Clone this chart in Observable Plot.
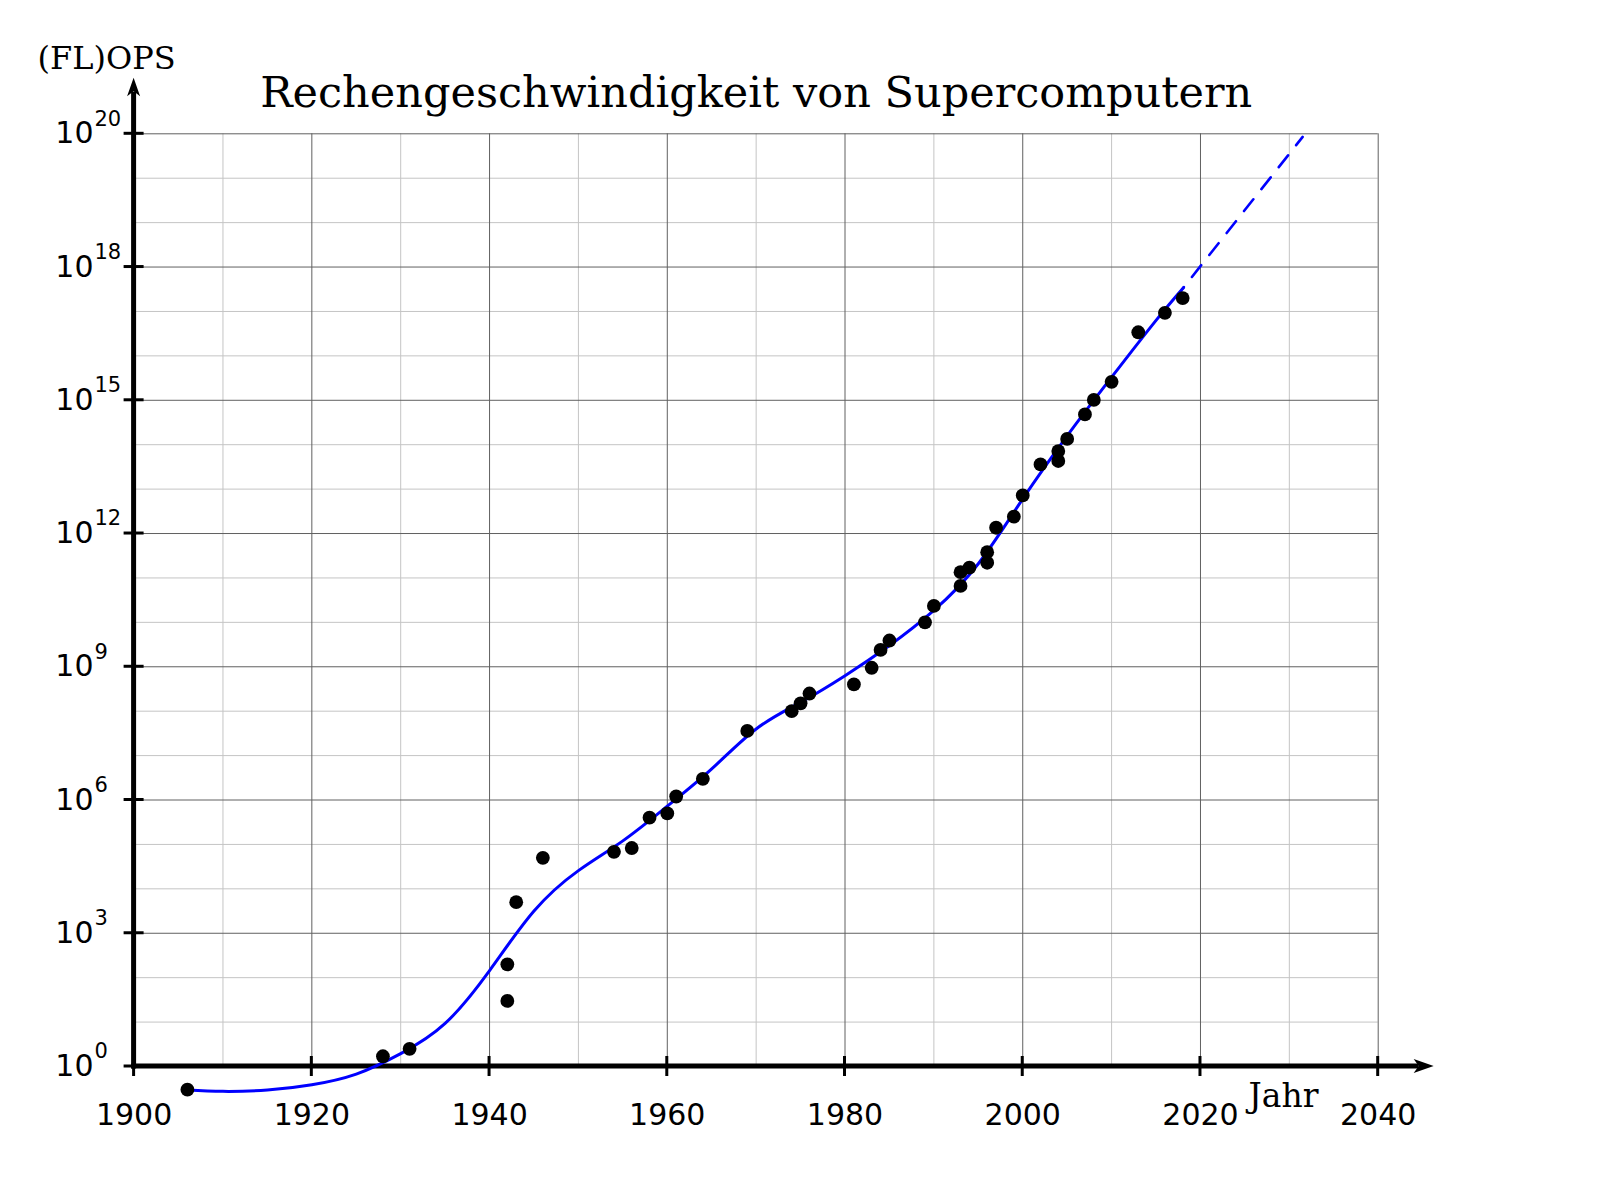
<!DOCTYPE html>
<html>
<head>
<meta charset="utf-8">
<script src="https://cdn.jsdelivr.net/npm/d3@7"></script>
<script src="https://cdn.jsdelivr.net/npm/@observablehq/plot@0.6"></script>
<style>
  html, body { margin: 0; padding: 0; background: #fff; overflow: hidden; }
</style>
</head>
<body>
<div id="chart"></div>
<script>
// ---------- data ----------
const pointYears = [1906, 1928, 1931, 1942, 1942, 1943, 1946, 1954, 1956, 1958, 1960, 1961, 1964, 1969,
  1974, 1975, 1976, 1981, 1983, 1984, 1985, 1989, 1990, 1993, 1993, 1994, 1996, 1996, 1997, 1999,
  2000, 2002, 2004, 2004, 2005, 2007, 2008, 2010, 2013, 2016, 2018];
const pointOps = [0.3, 1.7, 2.5, 30, 200, 5e3, 5e4, 6.8e4, 8.3e4, 4e5, 5e5, 1.2e6, 3e6, 3.6e7,
  1e8, 1.5e8, 2.5e8, 4e8, 9.5e8, 2.4e9, 3.9e9, 1e10, 2.35e10, 6.6e10, 1.35e11, 1.7e11, 2.2e11, 3.8e11, 1.35e12, 2.4e12,
  7.2e12, 3.6e13, 4.3e13, 7.2e13, 1.35e14, 4.8e14, 1.02e15, 2.6e15, 3.4e16, 9.3e16, 2e17];

// smooth trend curve (log10 of operations per second), read every 5 years
const trendYears = [1906, 1910, 1915, 1920, 1925, 1930, 1935, 1940, 1945, 1950, 1955, 1960, 1965,
  1970, 1975, 1980, 1985, 1990, 1995, 2000, 2005, 2010, 2015, 2018.06];
const trendLog10 = [-0.53, -0.56, -0.53, -0.41, -0.17, 0.29, 0.97, 2.16, 3.5, 4.41, 5.08, 5.86, 6.7,
  7.6, 8.2, 8.8, 9.48, 10.27, 11.32, 12.78, 14.2, 15.52, 16.8, 17.53];

// dashed extrapolation
const forecastYears = [2018.06, 2031.5];
const forecastLog10 = [17.53, 20.93];

// axis ticks and labels
const xTickYears = [1900, 1920, 1940, 1960, 1980, 2000, 2020, 2040];
const yTickExponents = [0, 3, 6, 9, 12, 15, 18, 21];
const yTickLabels = ["0", "3", "6", "9", "12", "15", "18", "20"];
const gridYears = [1910, 1920, 1930, 1940, 1950, 1960, 1970, 1980, 1990, 2000, 2010, 2020, 2030, 2040];
const gridExponents = [1, 2, 3, 4, 5, 6, 7, 8, 9, 10, 11, 12, 13, 14, 15, 16, 17, 18, 19, 20, 21];

const titleText = "Rechengeschwindigkeit von Supercomputern";
const yAxisLabel = "(FL)OPS";
const xAxisLabel = "Jahr";

// ---------- layout ----------
const axisXEndYear = 2046.3;     // x-axis arrow tip (data units)
const axisYEndExp = 22.25;       // y-axis arrow tip (log10 units)
const serif = "DejaVu Serif";
const sans = "DejaVu Sans";
const blue = "#0000ff";

const points = pointYears.map((year, i) => ({year, ops: pointOps[i]}));
const trend = trendYears.map((year, i) => ({year, ops: 10 ** trendLog10[i]}));
const forecast = forecastYears.map((year, i) => ({year, ops: 10 ** forecastLog10[i]}));

const isMajorYear = (t) => t % 20 === 0;
const isMajorExp = (e) => e % 3 === 0;

function axesMark(index, scales) {
  const {x, y} = scales;
  const g = d3.create("svg:g");
  const x0 = x(1900), y0 = y(1);
  const xEnd = x(axisXEndYear), yEnd = y(10 ** axisYEndExp);
  g.append("path").attr("d", `M${x0 - 2.5},${y0}H${xEnd - 15}`)
    .attr("stroke", "#000").attr("stroke-width", 5).attr("fill", "none");
  g.append("path").attr("d", `M${x0},${y0 + 2.5}V${yEnd + 14}`)
    .attr("stroke", "#000").attr("stroke-width", 5).attr("fill", "none");
  for (const t of xTickYears) {
    g.append("path").attr("d", `M${x(t)},${y0 - 10}V${y0 + 10}`)
      .attr("stroke", "#000").attr("stroke-width", 3);
  }
  for (const e of yTickExponents) {
    g.append("path").attr("d", `M${x0 - 10},${y(10 ** e)}H${x0 + 10}`)
      .attr("stroke", "#000").attr("stroke-width", 3);
  }
  g.append("path").attr("d", `M${xEnd},${y0}l-20,-7l5,7l-5,7z`).attr("fill", "#000");
  g.append("path").attr("d", `M${x0},${yEnd}l-6.5,18.5l6.5,-5l6.5,5z`).attr("fill", "#000");
  return g.node();
}

const chart = Plot.plot({
  width: 1600,
  height: 1200,
  marginLeft: 133.6,
  marginRight: 222.3,
  marginTop: 133.3,
  marginBottom: 134,
  style: {background: "#fff", color: "#000", fontFamily: sans, overflow: "visible"},
  x: {domain: [1900, 2040], axis: null},
  y: {type: "log", domain: [1, 1e21], axis: null},
  marks: [
    // grid
    Plot.ruleX(gridYears.filter((t) => !isMajorYear(t)), {stroke: "#c4c4c4", strokeWidth: 1}),
    Plot.ruleY(gridExponents.filter((e) => !isMajorExp(e)), {y: (e) => 10 ** e, stroke: "#c4c4c4", strokeWidth: 1}),
    Plot.ruleX(gridYears.filter(isMajorYear), {stroke: "#606060", strokeWidth: 1}),
    Plot.ruleY(gridExponents.filter(isMajorExp), {y: (e) => 10 ** e, stroke: "#606060", strokeWidth: 1}),
    // axes
    axesMark,
    // trend + forecast
    Plot.line(trend, {x: "year", y: "ops", stroke: blue, strokeWidth: 3, curve: "natural"}),
    Plot.line(forecast, {x: "year", y: "ops", stroke: blue, strokeWidth: 2.6, strokeDasharray: "15,13", strokeDashoffset: -14}),
    // data points
    Plot.dot(points, {x: "year", y: "ops", r: 6.9, fill: "#000", stroke: "none"}),
    // y tick labels 10^n
    Plot.text(yTickExponents, {y: (e) => 10 ** e, frameAnchor: "left", text: () => "10",
      textAnchor: "end", lineAnchor: "middle", dx: -40.6, fontSize: 30, fontFamily: sans}),
    Plot.text(yTickExponents, {y: (e) => 10 ** e, frameAnchor: "left", text: (d, i) => yTickLabels[i],
      textAnchor: "start", lineAnchor: "middle", dx: -39.6, dy: -15, fontSize: 21, fontFamily: sans}),
    // x tick labels
    Plot.text(xTickYears, {x: (d) => d, frameAnchor: "bottom", text: (d) => String(d),
      lineAnchor: "bottom", dy: 58.5, fontSize: 30, fontFamily: sans}),
    // axis titles
    Plot.text([yAxisLabel], {frameAnchor: "top-left", text: (d) => d, textAnchor: "start",
      lineAnchor: "bottom", dx: -96.6, dy: -65, fontSize: 32, fontFamily: serif}),
    Plot.text([xAxisLabel], {frameAnchor: "bottom-right", text: (d) => d, textAnchor: "start",
      lineAnchor: "bottom", dx: -129.7, dy: 40, fontSize: 33, fontFamily: serif}),
    // title
    Plot.text([titleText], {frameAnchor: "top", text: (d) => d, lineAnchor: "bottom",
      dy: -27, fontSize: 43, fontFamily: serif})
  ]
});

document.getElementById("chart").appendChild(chart);
</script>
</body>
</html>
